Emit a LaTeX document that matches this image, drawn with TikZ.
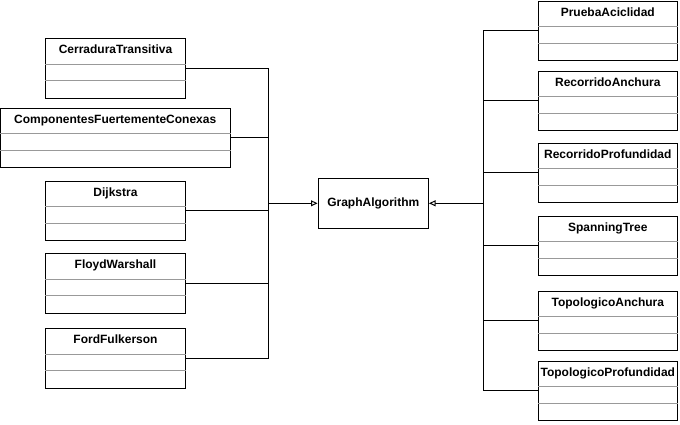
\documentclass[tikz,border=0pt]{standalone}
\usepackage{fontspec}
\setmainfont{Liberation Sans}
\usetikzlibrary{arrows.meta}
\tikzset{
  cls/.style={draw=black, line width=1pt, fill=white, inner sep=0pt, minimum height=59.5pt},
  divline/.style={draw=black!40, line width=1pt},
  ctitle/.style={font=\bfseries\fontsize{12pt}{14pt}\selectfont, inner sep=0pt, text=black},
  conn/.style={draw=black, line width=1pt},
  inh/.style={conn, -{Triangle[open, length=6.5pt, width=6pt, fill=white]}}
}
\newcommand\umlclass[5]{%
  \node[cls, minimum width=#4pt, anchor=north] (#1) at (#2,#3) {};
  \draw[divline] ([yshift=-26pt]#1.north west) -- ([yshift=-26pt]#1.north east);
  \draw[divline] ([yshift=-42.5pt]#1.north west) -- ([yshift=-42.5pt]#1.north east);
  \node[ctitle, anchor=base] (#1t) at ([yshift=-15.5pt]#1.north) {#5};
}
\begin{document}
\begin{tikzpicture}[x=1pt, y=-1pt]
\useasboundingbox[fill=white] (0,0) rectangle (680,424);
% left classes
\umlclass{c1}{115.5}{38.3}{140}{CerraduraTransitiva}
\umlclass{c2}{115.25}{107.7}{229.5}{ComponentesFuertementeConexas}
\umlclass{c3}{115.5}{180.7}{140}{Dijkstra}
\umlclass{c4}{115.5}{253.3}{140}{FloydWarshall}
\umlclass{c5}{115.5}{328.3}{140}{FordFulkerson}
% right classes
\umlclass{r1}{607.8}{0.5}{139}{PruebaAciclidad}
\umlclass{r2}{607.8}{70.7}{139}{RecorridoAnchura}
\umlclass{r3}{607.8}{142.7}{139}{RecorridoProfundidad}
\umlclass{r4}{607.8}{215.7}{139}{SpanningTree}
\umlclass{r5}{607.8}{290.7}{139}{TopologicoAnchura}
\umlclass{r6}{607.8}{360.7}{139}{TopologicoProfundidad}
% central class
\node[draw=black, line width=1pt, fill=white, minimum width=110.5pt, minimum height=50pt, inner sep=0pt,
  font=\bfseries\fontsize{12pt}{14pt}\selectfont, text=black] (ga) at (373.25,203.3) {GraphAlgorithm};
% trunks
\coordinate (lt) at (268.5,203.3);
\coordinate (rt) at (483.5,203.3);
\foreach \n in {c1,c2,c3,c4,c5} { \draw[conn] (\n.east) -| (lt); }
\foreach \n in {r1,r2,r3,r4,r5,r6} { \draw[conn] (\n.west) -| (rt); }
\draw[inh] (lt) -- (ga.west);
\draw[inh] (rt) -- (ga.east);
\end{tikzpicture}
\end{document}
